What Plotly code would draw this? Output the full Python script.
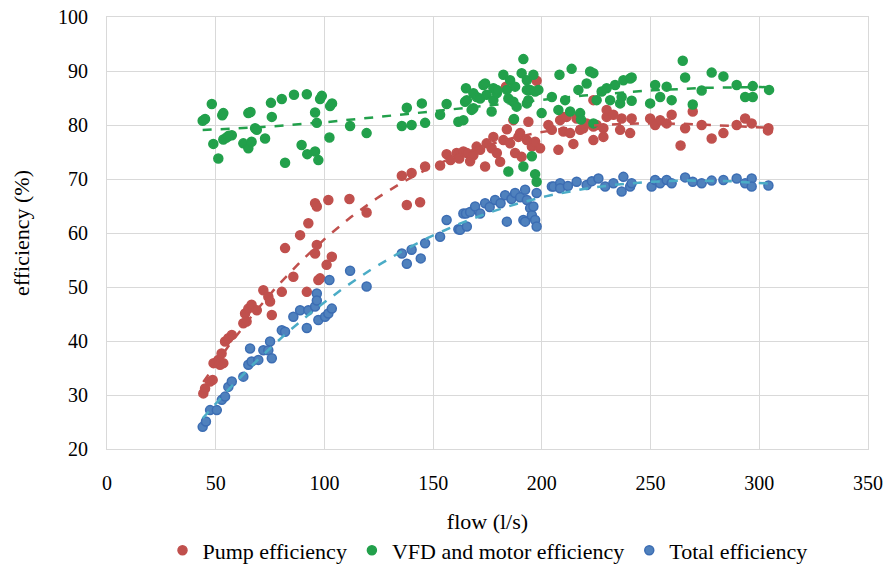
import numpy as np
import plotly.graph_objects as go

# Pump efficiency (%) vs flow (l/s)
pump_x = [44.3, 45.1, 47.4, 48.6, 49.0, 51.2, 52.0, 52.7, 53.5, 54.3, 55.8, 57.4, 62.7, 63.5, 64.2, 65.0,
          66.5, 68.9, 71.9, 74.2, 75.0, 75.8, 80.4, 81.9, 85.7, 88.8, 91.9, 92.6, 95.7, 96.5, 95.7, 96.5,
          97.2, 98.0, 101.0, 101.8, 103.4, 111.5, 119.4, 135.6, 137.9, 140.1, 144.0, 146.3, 153.2, 156.2,
          158.0, 160.8, 162.0, 163.9, 165.5, 167.0, 168.5, 170.0, 171.6, 173.9, 174.6, 176.9, 177.7, 179.3,
          180.8, 182.3, 183.9, 185.4, 186.9, 187.7, 189.2, 190.0, 190.7, 193.1, 193.8, 195.4, 196.9, 199.2,
          197.6, 183.5, 203.0, 204.6, 207.6, 208.4, 209.9, 209.9, 211.4, 213.0, 214.5, 216.0, 217.6, 219.1,
          220.6, 223.7, 223.7, 223.7, 225.2, 228.3, 228.3, 229.8, 229.8, 232.9, 236.0, 236.7, 240.6, 241.3,
          249.8, 252.1, 254.4, 257.4, 259.7, 263.8, 265.9, 269.4, 273.5, 278.1, 283.5, 289.6, 293.5, 296.5,
          304.2, 304.0]
pump_y = [30.3, 31.2, 32.5, 32.8, 35.9, 36.5, 35.6, 37.7, 35.9, 39.9, 40.5, 41.1, 43.3, 45.1, 43.6, 46.0,
          46.7, 45.7, 49.4, 48.2, 47.3, 44.8, 49.1, 57.2, 51.9, 59.6, 49.1, 61.8, 56.2, 57.8, 65.5, 64.9,
          51.3, 51.6, 54.1, 66.1, 55.6, 66.3, 63.8, 70.6, 65.2, 71.1, 65.7, 72.3, 72.5, 74.6,
          73.5, 74.8, 73.8, 75.1, 74.8, 73.3, 74.4, 76.0, 75.4, 72.3, 76.6, 75.7, 77.8, 74.8,
          73.2, 77.2, 79.2, 76.6, 80.9, 74.8, 77.8, 78.5, 74.1, 77.2, 80.6, 76.0, 76.9, 75.7,
          88.2, 87.1, 80.0, 79.1, 75.4, 80.9, 81.5, 78.8, 81.5, 78.5, 76.5, 81.2, 79.1, 79.4,
          80.3, 79.7, 77.2, 84.6, 80.0, 79.4, 77.8, 81.5, 82.8, 81.9, 79.1, 81.2, 78.5, 81.2,
          81.2, 80.0, 80.9, 80.3, 81.9, 76.2, 79.4, 82.5, 80.0, 77.5, 78.5, 80.0, 81.2, 80.3,
          79.4, 79.0]

# VFD and motor efficiency (%) vs flow (l/s)
vfd_x = [44.0, 45.1, 48.2, 48.9, 51.2, 53.0, 53.5, 53.5, 55.0, 57.4, 56.0, 62.7, 65.0, 65.0, 66.0, 66.5,
         68.1, 68.9, 72.7, 75.4, 75.8, 80.4, 81.9, 86.0, 89.5, 91.9, 92.1, 95.7, 95.7, 96.5, 97.2, 98.0,
         98.8, 102.3, 102.6, 103.5, 111.8, 119.4, 135.6, 137.9, 140.1, 144.8, 146.3, 153.2, 156.2, 161.6,
         163.9, 164.7, 165.1, 165.5, 167.7, 168.5, 168.5, 170.0, 171.6, 173.1, 173.9, 174.6, 176.9, 177.7,
         177.7, 179.3, 179.3, 182.3, 183.9, 184.6, 184.6, 185.4, 186.9, 187.2, 187.7, 188.4, 190.7, 191.5,
         191.5, 193.1, 193.1, 193.1, 193.8, 194.6, 195.4, 196.1, 196.9, 196.9, 197.6, 198.4, 199.9, 204.6,
         207.6, 208.1, 210.7, 213.0, 213.7, 216.8, 217.6, 218.0, 220.6, 222.2, 223.7, 223.7, 225.2, 227.5,
         229.8, 231.4, 233.7, 236.0, 236.7, 237.5, 240.6, 241.3, 241.3, 249.8, 252.1, 254.4, 257.4, 259.7,
         264.8, 265.9, 269.4, 273.5, 278.1, 283.5, 289.6, 293.5, 297.0, 297.0, 304.5]
vfd_y = [80.8, 81.1, 83.9, 76.5, 73.8, 81.8, 82.2, 77.3, 77.7, 78.1, 78.0, 76.6, 75.7, 82.2, 82.4, 76.9,
         79.4, 79.1, 77.5, 84.1, 81.5, 84.8, 73.0, 85.6, 76.3, 85.7, 74.6, 82.3, 75.1, 80.4, 73.5, 84.8,
         85.4, 77.7, 83.5, 84.0, 79.8, 78.5, 79.8, 83.2, 80.0, 84.0, 80.4, 81.9, 83.9, 80.6,
         80.9, 84.3, 86.8, 84.6, 82.8, 85.9, 83.1, 85.2, 84.9, 87.4, 87.7, 85.6, 82.5, 86.8,
         84.6, 85.9, 86.5, 89.3, 86.5, 84.9, 71.4, 88.3, 84.3, 81.1, 87.1, 83.4, 89.6, 92.2,
         72.3, 88.3, 86.5, 84.0, 84.6, 86.5, 74.2, 89.3, 86.2, 70.9, 69.5, 86.5, 82.2, 85.2,
         82.8, 89.3, 84.6, 82.5, 90.4, 86.5, 82.2, 81.0, 87.7, 89.9, 89.6, 80.3, 84.6, 86.2,
         86.8, 84.6, 87.4, 84.0, 85.2, 88.3, 88.6, 88.8, 84.5, 84.0, 87.4, 85.2, 87.1, 84.6,
         91.9, 88.8, 83.8, 86.4, 89.7, 89.0, 87.4, 85.2, 87.2, 85.2, 86.5]

# Total efficiency (%) vs flow (l/s)
tot_x = [44.0, 45.5, 47.4, 50.5, 52.8, 54.3, 55.8, 57.4, 62.7, 65.0, 65.8, 66.5, 69.6, 71.9, 74.2, 75.0,
         75.8, 80.4, 81.9, 85.7, 88.8, 91.9, 92.6, 95.7, 96.5, 96.5, 97.2, 100.3, 101.8, 103.4, 102.3, 111.8,
         119.4, 135.6, 137.9, 140.1, 144.3, 146.3, 153.2, 156.2, 161.6, 162.4, 163.9, 165.1, 165.5, 167.0,
         169.3, 171.6, 173.9, 176.0, 178.5, 181.0, 183.1, 183.9, 186.0, 187.7, 190.0, 191.5, 192.3, 192.3,
         193.1, 194.6, 195.4, 196.1, 196.9, 197.6, 197.6, 204.6, 205.4, 208.4, 208.4, 212.0, 216.0, 220.6,
         223.0, 226.0, 229.1, 232.9, 236.7, 237.5, 240.6, 241.3, 250.5, 252.1, 254.4, 257.4, 259.7, 265.9,
         269.4, 273.5, 278.1, 283.5, 289.6, 293.5, 296.5, 296.5, 304.2]
tot_y = [24.1, 25.1, 27.2, 27.2, 29.1, 29.7, 31.5, 32.5, 33.4, 35.6, 38.6, 36.2, 36.5, 38.3, 38.3, 39.9,
         36.8, 42.0, 41.7, 44.5, 45.7, 42.4, 45.7, 46.4, 48.8, 47.5, 43.9, 44.5, 45.1, 46.0, 51.3, 53.0,
         50.1, 56.2, 54.3, 56.9, 55.3, 58.1, 59.3, 62.4, 60.7, 60.6, 63.6, 63.6, 61.2, 63.9,
         64.9, 63.6, 65.5, 64.8, 66.1, 65.5, 67.0, 62.1, 66.3, 67.4, 66.6, 62.4, 68.0, 62.1,
         66.1, 64.6, 63.3, 64.9, 62.4, 67.4, 61.2, 68.6, 68.6, 69.2, 68.3, 68.7, 69.5, 68.9,
         69.6, 70.1, 68.6, 69.2, 67.7, 70.4, 68.6, 69.2, 68.6, 69.8, 69.2, 69.8, 69.2, 70.3,
         69.5, 69.2, 69.7, 69.8, 70.1, 69.2, 70.1, 68.6, 68.8]

x_ticks = [0, 50, 100, 150, 200, 250, 300, 350]
y_ticks = [20, 30, 40, 50, 60, 70, 80, 90, 100]

SERIF = "Liberation Serif"
RED = "#C0504D"
GREEN = "#22A04B"
BLUE = "#4F81BD"
BLUE_EDGE = "#3C6DB3"
CYAN = "#4BACC6"

series = [
    ("Pump efficiency", pump_x, pump_y, RED, RED, RED),
    ("VFD and motor efficiency", vfd_x, vfd_y, GREEN, GREEN, GREEN),
    ("Total efficiency", tot_x, tot_y, BLUE, BLUE_EDGE, CYAN),
]

fig = go.Figure()
for name, xs, ys, fill, edge, trend in series:
    fig.add_trace(go.Scatter(
        x=xs, y=ys, mode="markers", name=name,
        marker=dict(size=9, color=fill, line=dict(color=edge, width=1.5)),
    ))

# cubic trendlines fitted to each series
for name, xs, ys, fill, edge, trend in series:
    coef = np.polyfit(xs, ys, 3)
    xf = np.linspace(min(xs), max(xs), 200)
    fig.add_trace(go.Scatter(
        x=xf.tolist(), y=np.polyval(coef, xf).tolist(), mode="lines", showlegend=False,
        line=dict(color=trend, width=2.5, dash="dash"), hoverinfo="skip",
    ))

fig.update_layout(
    width=892, height=568,
    margin=dict(l=107, r=24, t=17, b=119, autoexpand=False),
    paper_bgcolor="white", plot_bgcolor="white",
    font=dict(family=SERIF, size=20, color="black"),
    legend=dict(orientation="h", x=0.5, xanchor="center", y=-0.235, yanchor="middle",
                font=dict(family=SERIF, size=22), bgcolor="rgba(0,0,0,0)"),
)
fig.update_xaxes(range=[0, 350], tickvals=x_ticks,
                 showgrid=True, gridcolor="#D9D9D9", showline=True, linecolor="#D9D9D9", mirror=True,
                 zeroline=False, ticks="outside", ticklen=16, tickcolor="white",
                 tickfont=dict(family=SERIF, size=20, color="black"),
                 title_text="flow (l/s)", title_font=dict(family=SERIF, size=22), title_standoff=20)
fig.update_yaxes(range=[20, 100], tickvals=y_ticks,
                 showgrid=True, gridcolor="#D9D9D9", showline=True, linecolor="#D9D9D9", mirror=True,
                 zeroline=False, ticks="outside", ticklen=14, tickcolor="white",
                 tickfont=dict(family=SERIF, size=20, color="black"),
                 title_text="efficiency (%)", title_font=dict(family=SERIF, size=22), title_standoff=22)

# redraw once the system fonts are ready so text is measured with the serif face
redraw_js = (
    "var gd = document.getElementById('{plot_id}');"
    "if (document.fonts && document.fonts.ready) {"
    "  document.fonts.load('20px \"Liberation Serif\"').then(function () {"
    "    Plotly.react(gd, gd.data, gd.layout);"
    "  });"
    "}"
)

fig.write_html("out.html", post_script=redraw_js)
